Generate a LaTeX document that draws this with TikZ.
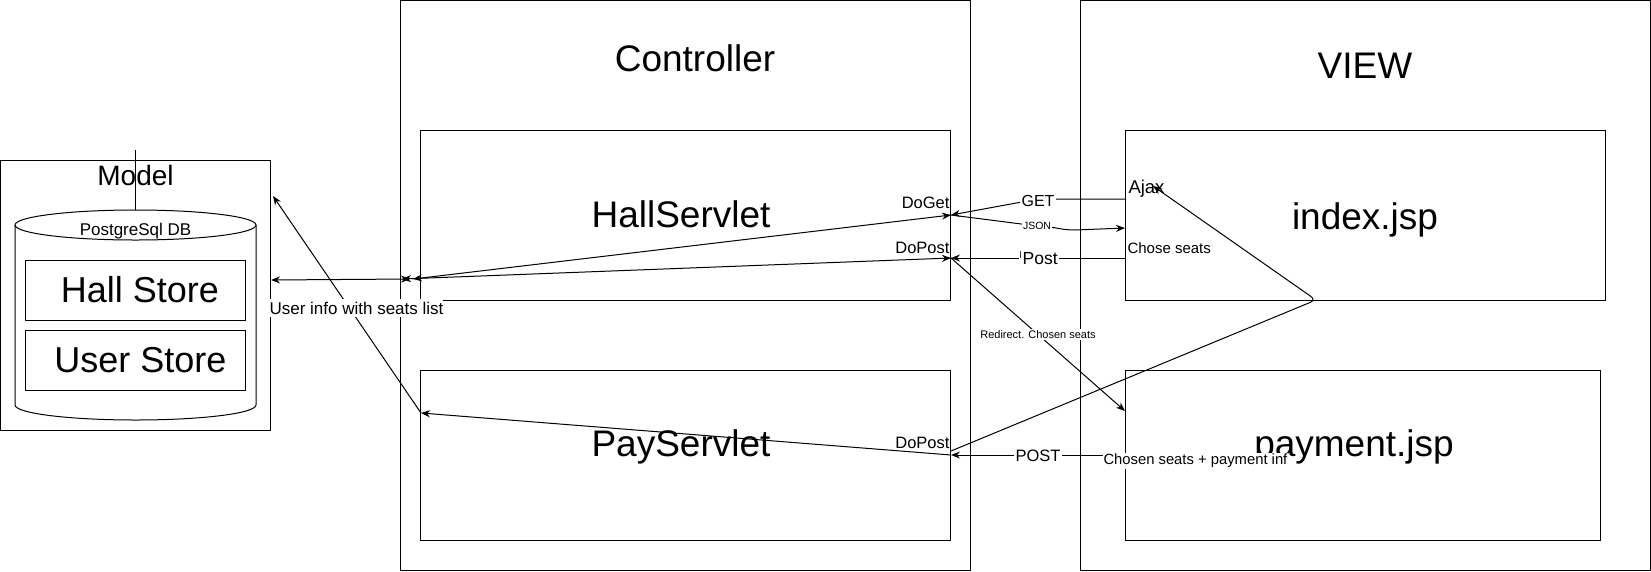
\documentclass[tikz,border=0pt]{standalone}
\usepackage{fontspec}
\setmainfont{Liberation Sans}
\usetikzlibrary{arrows.meta}
\newcommand\pxfont[1]{\fontsize{#1}{#1}\selectfont}

\begin{document}
\begin{tikzpicture}[x=1pt,y=-1pt,line width=1pt,
  box/.style={draw,inner sep=0pt,outer sep=0pt},
  txt/.style={inner sep=0pt,anchor=base,font=\pxfont{#1}},
  txt/.default=37,
  lbl/.style={fill=white,inner sep=1.5pt,font=\pxfont{#1}},
  lbl/.default=16,
  arr/.style={-{Stealth[length=9pt,width=7pt]}},
  arrs/.style={{Stealth[length=9pt,width=7pt]}-{Stealth[length=9pt,width=7pt]}}]

\useasboundingbox (0,0) rectangle (1651,571);

% frames
\node[box,minimum width=270,minimum height=270] (model) at (135.5,295) {};
\node[box,minimum width=570,minimum height=570] (ctrl) at (685.5,285.5) {};
\node[box,minimum width=570,minimum height=570] (view) at (1365.5,285.5) {};
\node[box,minimum width=530,minimum height=170] (hall) at (685.5,215.5) {};
\node[box,minimum width=530,minimum height=170] (pay) at (685.5,455.5) {};
\node[box,minimum width=480,minimum height=170] (index) at (1365.5,215.5) {};
\node[box,minimum width=475,minimum height=170] (payment) at (1363,455.5) {};

% database
\coordinate (mtop) at (135.5,150);
\coordinate (dbtop) at (135.5,210);
\draw (135.5,225) ellipse[x radius=120.5pt,y radius=15pt];
\draw (15,225) -- (15,405)
      arc[start angle=180,end angle=360,x radius=120.5pt,y radius=15pt]
      -- (256,225);
\draw (mtop) -- (dbtop);
\node[box,minimum width=220,minimum height=60] (hallst) at (135.7,290.5) {};
\node[box,minimum width=220,minimum height=60] (userst) at (135.7,360.5) {};

% titles
\node[txt=28] (t-model) at (135.5,185) {Model};
\node[txt=17] (t-db) at (135.5,235) {PostgreSql DB};
\node[txt=36] (t-hallst) at (140,302) {Hall Store};
\node[txt=36] (t-userst) at (140.5,372) {User Store};
\node[txt] (t-ctrl) at (695,71) {Controller};
\node[txt] (t-view) at (1365,78) {VIEW};
\node[txt] (t-hall) at (681,227) {HallServlet};
\node[txt] (t-pay) at (681,456) {PayServlet};
\node[txt] (t-index) at (1365,229) {index.jsp};
\node[txt] (t-payment) at (1354,456) {payment.jsp};

\node[txt=16.5,anchor=base east] (t-doget) at (950,208) {DoGet};
\node[txt=16.5,anchor=base east] (t-dopost) at (950,253) {DoPost};
\node[txt=16.5,anchor=base east] (t-dopost2) at (950,448) {DoPost};
\node[txt=18.5,anchor=base west] (t-ajax) at (1128,193) {Ajax};
\node[txt=15,anchor=base west] (t-chose) at (1127,253) {Chose seats};

% connection points
\coordinate (dg) at (951,215);
\coordinate (dp) at (951,258);
\coordinate (pp) at (951,455);
\coordinate (pa) at (951,451);
\coordinate (hl1) at (413,279);
\coordinate (hl2) at (402,279);
\coordinate (hl3) at (410,279);
\coordinate (pl) at (421,413);
\coordinate (me) at (271,280);
\coordinate (mu) at (273,196);
\coordinate (ig) at (1126,199);
\coordinate (gb) at (1038,199);
\coordinate (jm) at (1037,226);
\coordinate (jb) at (1075,230);
\coordinate (ij) at (1125,228);
\coordinate (ip) at (1126,258);
\coordinate (iq) at (1126,455);
\coordinate (pr) at (1125,411);
\coordinate (ib) at (1316,300);
\coordinate (aj) at (1153,186);

% controller <-> model
\draw[arrs] (dg) -- (hl1);
\draw[arrs] (dp) -- (hl2);
\draw[arrs] (me) -- (hl3);
\draw[arr] (pp) -- (pl);
\draw[arr] (pl) -- (mu);
\node[lbl=17,inner xsep=0pt,inner ysep=3pt] (l-user) at (356.5,308) {User info with seats list};

% view <-> controller
\draw[arr] (ig) -- (gb) -- (dg);
\node[lbl] (l-get) at (1038,200.5) {GET};
\draw[arr] (dg) -- (jm) .. controls (1058,227) and (1060,230) .. (jb) -- (ij);
\node[lbl=10.5,inner sep=1pt] (l-json) at (1037,225.5) {JSON};
\draw[arr] (ip) -- (dp);
\node[lbl=17.5] (l-post) at (1039,257.7) {{\color{darkgray}\rule[6pt]{0.9pt}{7.5pt}}\kern1.5pt Post};
\draw[arr] (dp) -- (pr) node[midway,lbl=11,inner sep=1pt] (l-redir) {Redirect. Chosen seats};
\draw[arr] (iq) -- (pp);
\node[lbl=16.5] (l-post2) at (1038,456) {POST};
\draw[arr,rounded corners=6pt] (pa) -- (ib) -- (aj);
\node[lbl=14.8,anchor=west,inner sep=1pt] (l-pay) at (1102,461) {Chosen seats + payment inf};

\end{tikzpicture}
\end{document}
